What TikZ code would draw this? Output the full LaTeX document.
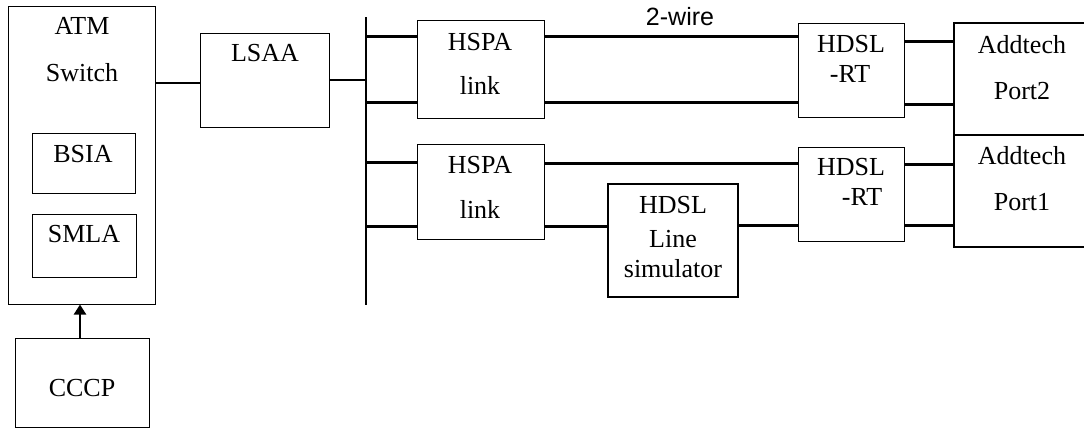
\documentclass[tikz,border=0pt]{standalone}
\usepackage{fontspec}
\setmainfont{Liberation Serif}
\newfontfamily\wirefont{Liberation Sans}
\usetikzlibrary{arrows.meta}
\begin{document}
\begin{tikzpicture}[x=1pt,y=-1pt,
  box/.style={draw,line width=1pt,inner sep=0pt},
  thickbox/.style={draw,line width=2.8pt,inner sep=0pt},
  lbl/.style={anchor=base,inner sep=0pt,font=\fontsize{26}{31}\selectfont},
  thin/.style={line width=1.2pt},
  wire/.style={line width=3pt}]
\useasboundingbox (0,0) rectangle (1084,432);

% ATM switch with its two interface cards
\node[box,minimum width=147pt,minimum height=298pt] (atm) at (81.5,155) {};
\node[box,minimum width=103pt,minimum height=60pt] (bsia) at (83.5,163) {};
\node[box,minimum width=104pt,minimum height=63pt] (smla) at (84,245.5) {};
\node[box,minimum width=134pt,minimum height=89pt] (cccp) at (82,382.5) {};
\node[box,minimum width=129pt,minimum height=94pt] (lsaa) at (264.5,80) {};

\node[lbl] (tatm) at (82,34) {ATM};
\node[lbl] (tsw) at (82,81) {Switch};
\node[lbl] (tbsia) at (83,162) {BSIA};
\node[lbl] (tsmla) at (84,242) {SMLA};
\node[lbl] (tcccp) at (82,396) {CCCP};
\node[lbl] (tlsaa) at (265,61) {LSAA};

% bus
\coordinate (busT) at (366,17);
\coordinate (busB) at (366,305);
\draw[thin] (busT) -- (busB);

% HSPA links
\node[box,minimum width=127pt,minimum height=98pt] (hspa1) at (480.5,69) {};
\node[box,minimum width=127pt,minimum height=95pt] (hspa2) at (480.5,191.5) {};
\node[lbl] (th1a) at (480,50) {HSPA};
\node[lbl] (th1b) at (480,94) {link};
\node[lbl] (th2a) at (480,173) {HSPA};
\node[lbl] (th2b) at (480,218) {link};

% line simulator
\node[thickbox,minimum width=130pt,minimum height=113pt] (sim) at (673,240.5) {};
\node[lbl] (ts1) at (673,213) {HDSL};
\node[lbl] (ts2) at (673,247) {Line};
\node[lbl] (ts3) at (673,277) {simulator};

% HDSL remote terminals
\node[box,minimum width=106pt,minimum height=94pt] (rt1) at (851,70) {};
\node[box,minimum width=106pt,minimum height=94pt] (rt2) at (851,194) {};
\node[lbl] (tr1a) at (851,52) {HDSL};
\node[lbl] (tr1b) at (850,82) {-RT};
\node[lbl] (tr2a) at (851,175) {HDSL};
\node[lbl] (tr2b) at (862,205) {-RT};

% Addtech ports (open towards the right edge)
\coordinate (a2) at (954,23);
\coordinate (a1) at (954,135);
\coordinate (a0) at (954,247);
\draw[line width=2.8pt] (1090,23) -- (a2) -- (a0) -- (1090,247);
\draw[line width=2.8pt] (a1) -- (1090,135);
\node[lbl] (tad2a) at (1022,53) {Addtech};
\node[lbl] (tad2b) at (1022,99) {Port2};
\node[lbl] (tad1a) at (1022,164) {Addtech};
\node[lbl] (tad1b) at (1022,210) {Port1};

\node[anchor=base,inner sep=0pt,font=\wirefont\fontsize{25}{29}\selectfont] (twire) at (680,25) {2-wire};

% thin connections on the left
\draw[thin] (atm.east |- 0,83) -- (lsaa.west |- 0,83);
\draw[thin] (lsaa.east |- 0,80) -- (busT |- 0,80);
\draw[line width=2.2pt,-{Triangle[length=10pt,width=12pt]}] (cccp.north -| 80,0) -- (atm.south -| 80,0);

% two-wire pairs
\draw[wire] (busT |- 0,36) -- (hspa1.west |- 0,36);
\draw[wire] (busT |- 0,102) -- (hspa1.west |- 0,102);
\draw[wire] (busT |- 0,162) -- (hspa2.west |- 0,162);
\draw[wire] (busT |- 0,226) -- (hspa2.west |- 0,226);
\draw[wire] (hspa1.east |- 0,36) -- (rt1.west |- 0,36);
\draw[wire] (hspa1.east |- 0,102) -- (rt1.west |- 0,102);
\draw[wire] (hspa2.east |- 0,163) -- (rt2.west |- 0,163);
\draw[wire] (hspa2.east |- 0,226) -- (sim.west |- 0,226);
\draw[wire] (sim.east |- 0,225) -- (rt2.west |- 0,225);
\draw[wire] (rt1.east |- 0,41) -- (a2 |- 0,41);
\draw[wire] (rt1.east |- 0,104) -- (a2 |- 0,104);
\draw[wire] (rt2.east |- 0,164) -- (a1 |- 0,164);
\draw[wire] (rt2.east |- 0,225) -- (a1 |- 0,225);
\end{tikzpicture}
\end{document}
